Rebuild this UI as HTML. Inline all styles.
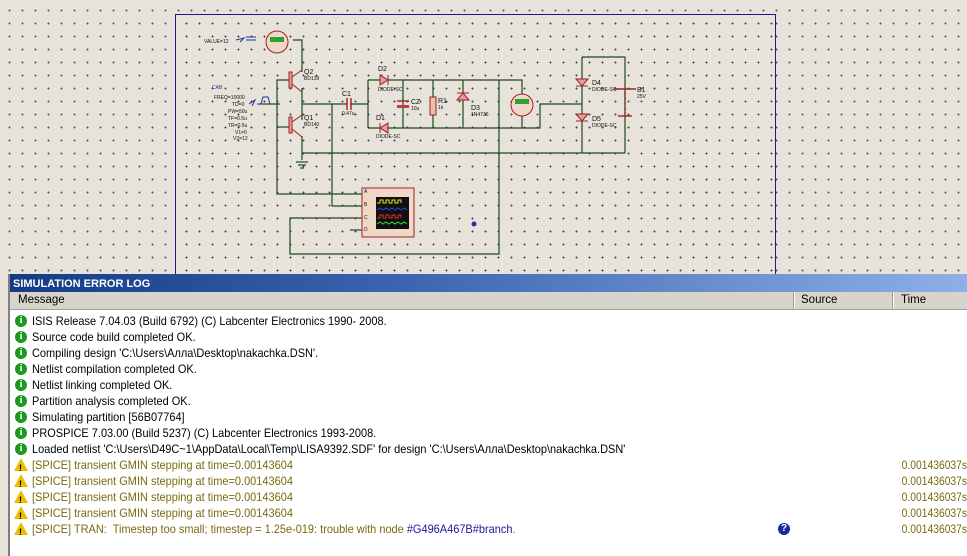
<!DOCTYPE html>
<html><head><meta charset="utf-8"><style>
html,body{margin:0;padding:0}
body{width:967px;height:556px;overflow:hidden;position:relative;background:#e7e3da;font-family:"Liberation Sans",sans-serif}
#grid{position:absolute;left:0;top:0;width:967px;height:275px;background-image:radial-gradient(circle,#555 0.8px,transparent 1.1px);background-size:13px 13px;background-position:3px 4px}
#inner{position:absolute;left:176px;top:15px;width:598px;height:260px;background-color:#e7e3da;background-image:radial-gradient(circle,#444 0.8px,transparent 1.1px);background-size:13px 13px;background-position:4px 2px}
#frame{position:absolute;left:175px;top:14px;width:599px;height:270px;border:1px solid #1a1a8a}
svg{position:absolute;left:0;top:0}
#log{position:absolute;left:8px;top:274px;width:959px;height:282px;background:#fff;border-left:2px solid #808080}
#title{height:18px;background:linear-gradient(90deg,#143c84 0%,#3a64b0 40%,#8fb0e6 100%);color:#fff;font-weight:bold;font-size:11px;line-height:20px;padding-left:3px}
#hdr{height:17px;background:#d8d4cc;border-bottom:1px solid #a0a0a0;position:relative;font-size:11.5px;color:#000}
#hdr span{position:absolute;top:2px}
.sep{position:absolute;top:0;width:1px;height:17px;background:#fff;border-left:1px solid #999}
.row{position:absolute;left:0;height:16px;width:959px;font-size:12px;line-height:16px}
.row .t{position:absolute;left:22px;white-space:nowrap;transform:scaleX(.915);transform-origin:left}
.w .t{color:#7a6a10}
.row .tm{position:absolute;right:2px;color:#7a6a10;transform:scaleX(.86);transform-origin:right}
.ic{position:absolute;left:5px;top:2px;width:12px;height:12px;border-radius:50%;background:#1c9a1c;color:#fff;font-size:10px;font-weight:bold;text-align:center;line-height:12px;font-family:"Liberation Serif",serif}
.wi{position:absolute;left:4px;top:1px;width:0;height:0;border-left:7px solid transparent;border-right:7px solid transparent;border-bottom:13px solid #e8c000}
.wi:after{content:"!";position:absolute;left:-2px;top:2px;font-size:9px;font-weight:bold;color:#000}
a{color:#1a1a9a}
</style></head><body>
<div id="grid"></div>
<div id="inner"></div>
<div id="frame"></div>
<svg width="967" height="275" viewBox="0 0 967 275">
<g stroke="#1e4a1e" stroke-width="1.2" fill="none">
<path d="M293 40H302V72"/>
<path d="M302 88V120"/>
<path d="M259 104H280"/>
<path d="M302 104H347M350 104H368"/>
<path d="M302 136V160"/>
<path d="M302 153H625"/>
<path d="M290 80H277V194H362"/>
<path d="M277 127H290"/>
<path d="M332 104V206H362"/>
<path d="M368 80V128"/>
<path d="M368 80H522V96"/>
<path d="M368 128H540V104H582"/>
<path d="M522 114V128"/>
<path d="M403 80V128M433 80V128M463 80V128"/>
<path d="M499 80V254H290V218H362"/>
<path d="M350 230H362"/>
<path d="M582 57V153M582 57H625V153"/>
</g>
<g stroke="#1e4a1e" stroke-width="1.2">
<line x1="296" y1="162" x2="308" y2="162"/><line x1="298" y1="165" x2="306" y2="165"/><line x1="300" y1="168" x2="304" y2="168"/>
</g>
<g fill="#e0a0a0" stroke="#a02020" stroke-width="1">
<rect x="289" y="72" width="3" height="16"/><rect x="289" y="117" width="3" height="16"/>
<path d="M292 77L302 70M292 84L302 92M292 122L302 115M292 129L302 137" fill="none"/>
</g>
<g stroke="#a02020" stroke-width="1.4"><line x1="347" y1="98" x2="347" y2="110"/><line x1="351" y1="98" x2="351" y2="110"/>
<line x1="397" y1="101" x2="409" y2="101"/></g>
<rect x="397" y="105" width="12" height="3" fill="#c04040"/>
<rect x="430" y="97" width="6" height="18" fill="#e8c0b0" stroke="#a02020"/>
<g fill="#e0a0a0" stroke="#a02020">
<path d="M380 75L380 85L388 80Z"/><line x1="388" y1="75" x2="388" y2="85"/>
<path d="M388 123L388 133L380 128Z"/><line x1="380" y1="123" x2="380" y2="133"/>
<path d="M457 100L469 100L463 93Z"/><line x1="457" y1="93" x2="469" y2="93"/>
<path d="M576 79L588 79L582 86Z"/><line x1="576" y1="86" x2="588" y2="86"/>
<path d="M576 114L588 114L582 121Z"/><line x1="576" y1="121" x2="588" y2="121"/>
</g>
<g stroke="#a02020" stroke-width="1.4"><line x1="614" y1="89" x2="636" y2="89"/><line x1="618" y1="116" x2="632" y2="116"/><line x1="625" y1="92" x2="625" y2="114" stroke-dasharray="3 2"/></g>
<circle cx="277" cy="42" r="11" fill="#f0d8c8" stroke="#a02020"/><rect x="270" y="37" width="14" height="5" fill="#30a030"/>
<circle cx="522" cy="105" r="11" fill="#f0d8c8" stroke="#a02020"/><rect x="515" y="99" width="14" height="5" fill="#30a030"/>
<path d="M236 40L244 38L240 42M246 37H256M246 40H256" stroke="#2030a0" fill="none"/>
<path d="M249 104L255 100L252 106M257 104H261L263 97H268L270 104" stroke="#2030a0" fill="none"/>
<rect x="362" y="188" width="52" height="49" fill="#f0d8c8" stroke="#a02020"/>
<rect x="376" y="197" width="33" height="32" fill="#101010"/>
<path d="M377 203h3v-3h3v3h3v-3h3v3h3v-3h3v3h3v-3h3v3" stroke="#e0e030" fill="none"/>
<path d="M377 210l3-2 3 2 3-2 3 2 3-2 3 2 3-2 3 2 3-2 3 2" stroke="#3040e0" fill="none"/>
<path d="M377 218h3v-3h3v3h3v-3h3v3h3v-3h3v3h3v-3h3v3" stroke="#e03030" fill="none"/>
<path d="M377 224l3-2 3 2 3-2 3 2 3-2 3 2 3-2 3 2 3-2 3 2" stroke="#30e030" fill="none"/>
<circle cx="474" cy="224" r="2.5" fill="#2030b0"/>
<g font-family="Liberation Sans" font-size="5" fill="#111">
<text x="364" y="193">A</text><text x="364" y="206">B</text><text x="364" y="219">C</text><text x="364" y="231">D</text>
<text x="304" y="74" font-size="7">Q2</text><text x="304" y="80">BD139</text>
<text x="304" y="120" font-size="7">Q1</text><text x="304" y="126">BD140</text>
<text x="342" y="96" font-size="7">C1</text><text x="342" y="115">0.47u</text>
<text x="378" y="71" font-size="7">D2</text><text x="378" y="91">DIODE-SC</text>
<text x="376" y="120" font-size="7">D1</text><text x="376" y="138">DIODE-SC</text>
<text x="411" y="104" font-size="7">CZ</text><text x="411" y="110">10u</text>
<text x="438" y="103" font-size="7">R1</text><text x="438" y="109">1k</text>
<text x="471" y="110" font-size="7">D3</text><text x="471" y="116">1N4736</text>
<text x="592" y="85" font-size="7">D4</text><text x="592" y="91">DIODE-SC</text>
<text x="592" y="121" font-size="7">D5</text><text x="592" y="127">DIODE-SC</text>
<text x="637" y="92" font-size="7">B1</text><text x="637" y="98">25V</text>
<text x="204" y="43">VALUE=12</text>
<text x="212" y="89" fill="#2030a0">CAB</text><text x="214" y="99">FREQ=10000</text>
<text x="232" y="106">TD=0</text><text x="228" y="113">PW=50u</text><text x="228" y="120">TF=0.5u</text><text x="228" y="127">TR=0.5u</text><text x="235" y="134">V1=0</text><text x="233" y="140">V2=12</text>
</g>
</svg>
<div id="log">
<div id="title">SIMULATION ERROR LOG</div>
<div id="hdr"><span style="left:8px">Message</span><div class="sep" style="left:783px"></div><span style="left:791px">Source</span><div class="sep" style="left:882px"></div><span style="left:891px">Time</span></div>
<div class="row" style="top:39px"><div class="ic">i</div><span class="t">ISIS Release 7.04.03 (Build 6792) (C) Labcenter Electronics 1990- 2008.</span></div>
<div class="row" style="top:55px"><div class="ic">i</div><span class="t">Source code build completed OK.</span></div>
<div class="row" style="top:71px"><div class="ic">i</div><span class="t">Compiling design 'C:\Users\Алла\Desktop\nakachka.DSN'.</span></div>
<div class="row" style="top:87px"><div class="ic">i</div><span class="t">Netlist compilation completed OK.</span></div>
<div class="row" style="top:103px"><div class="ic">i</div><span class="t">Netlist linking completed OK.</span></div>
<div class="row" style="top:119px"><div class="ic">i</div><span class="t">Partition analysis completed OK.</span></div>
<div class="row" style="top:135px"><div class="ic">i</div><span class="t">Simulating partition [56B07764]</span></div>
<div class="row" style="top:151px"><div class="ic">i</div><span class="t">PROSPICE 7.03.00 (Build 5237) (C) Labcenter Electronics 1993-2008.</span></div>
<div class="row" style="top:167px"><div class="ic">i</div><span class="t">Loaded netlist 'C:\Users\D49C~1\AppData\Local\Temp\LISA9392.SDF' for design 'C:\Users\Алла\Desktop\nakachka.DSN'</span></div>
<div class="row w" style="top:183px"><div class="wi"></div><span class="t">[SPICE] transient GMIN stepping at time=0.00143604</span><span class="tm">0.001436037s</span></div>
<div class="row w" style="top:199px"><div class="wi"></div><span class="t">[SPICE] transient GMIN stepping at time=0.00143604</span><span class="tm">0.001436037s</span></div>
<div class="row w" style="top:215px"><div class="wi"></div><span class="t">[SPICE] transient GMIN stepping at time=0.00143604</span><span class="tm">0.001436037s</span></div>
<div class="row w" style="top:231px"><div class="wi"></div><span class="t">[SPICE] transient GMIN stepping at time=0.00143604</span><span class="tm">0.001436037s</span></div>
<div class="row w" style="top:247px"><div class="wi"></div><span class="t">[SPICE] TRAN:&nbsp; Timestep too small; timestep = 1.25e-019: trouble with node <a>#G496A467B#branch</a>.</span><div style="position:absolute;left:768px;top:2px;width:12px;height:12px;border-radius:50%;background:#1a2aa0;color:#fff;font-size:10px;font-weight:bold;text-align:center;line-height:12px">?</div><span class="tm">0.001436037s</span></div>
</div>
</body></html>
